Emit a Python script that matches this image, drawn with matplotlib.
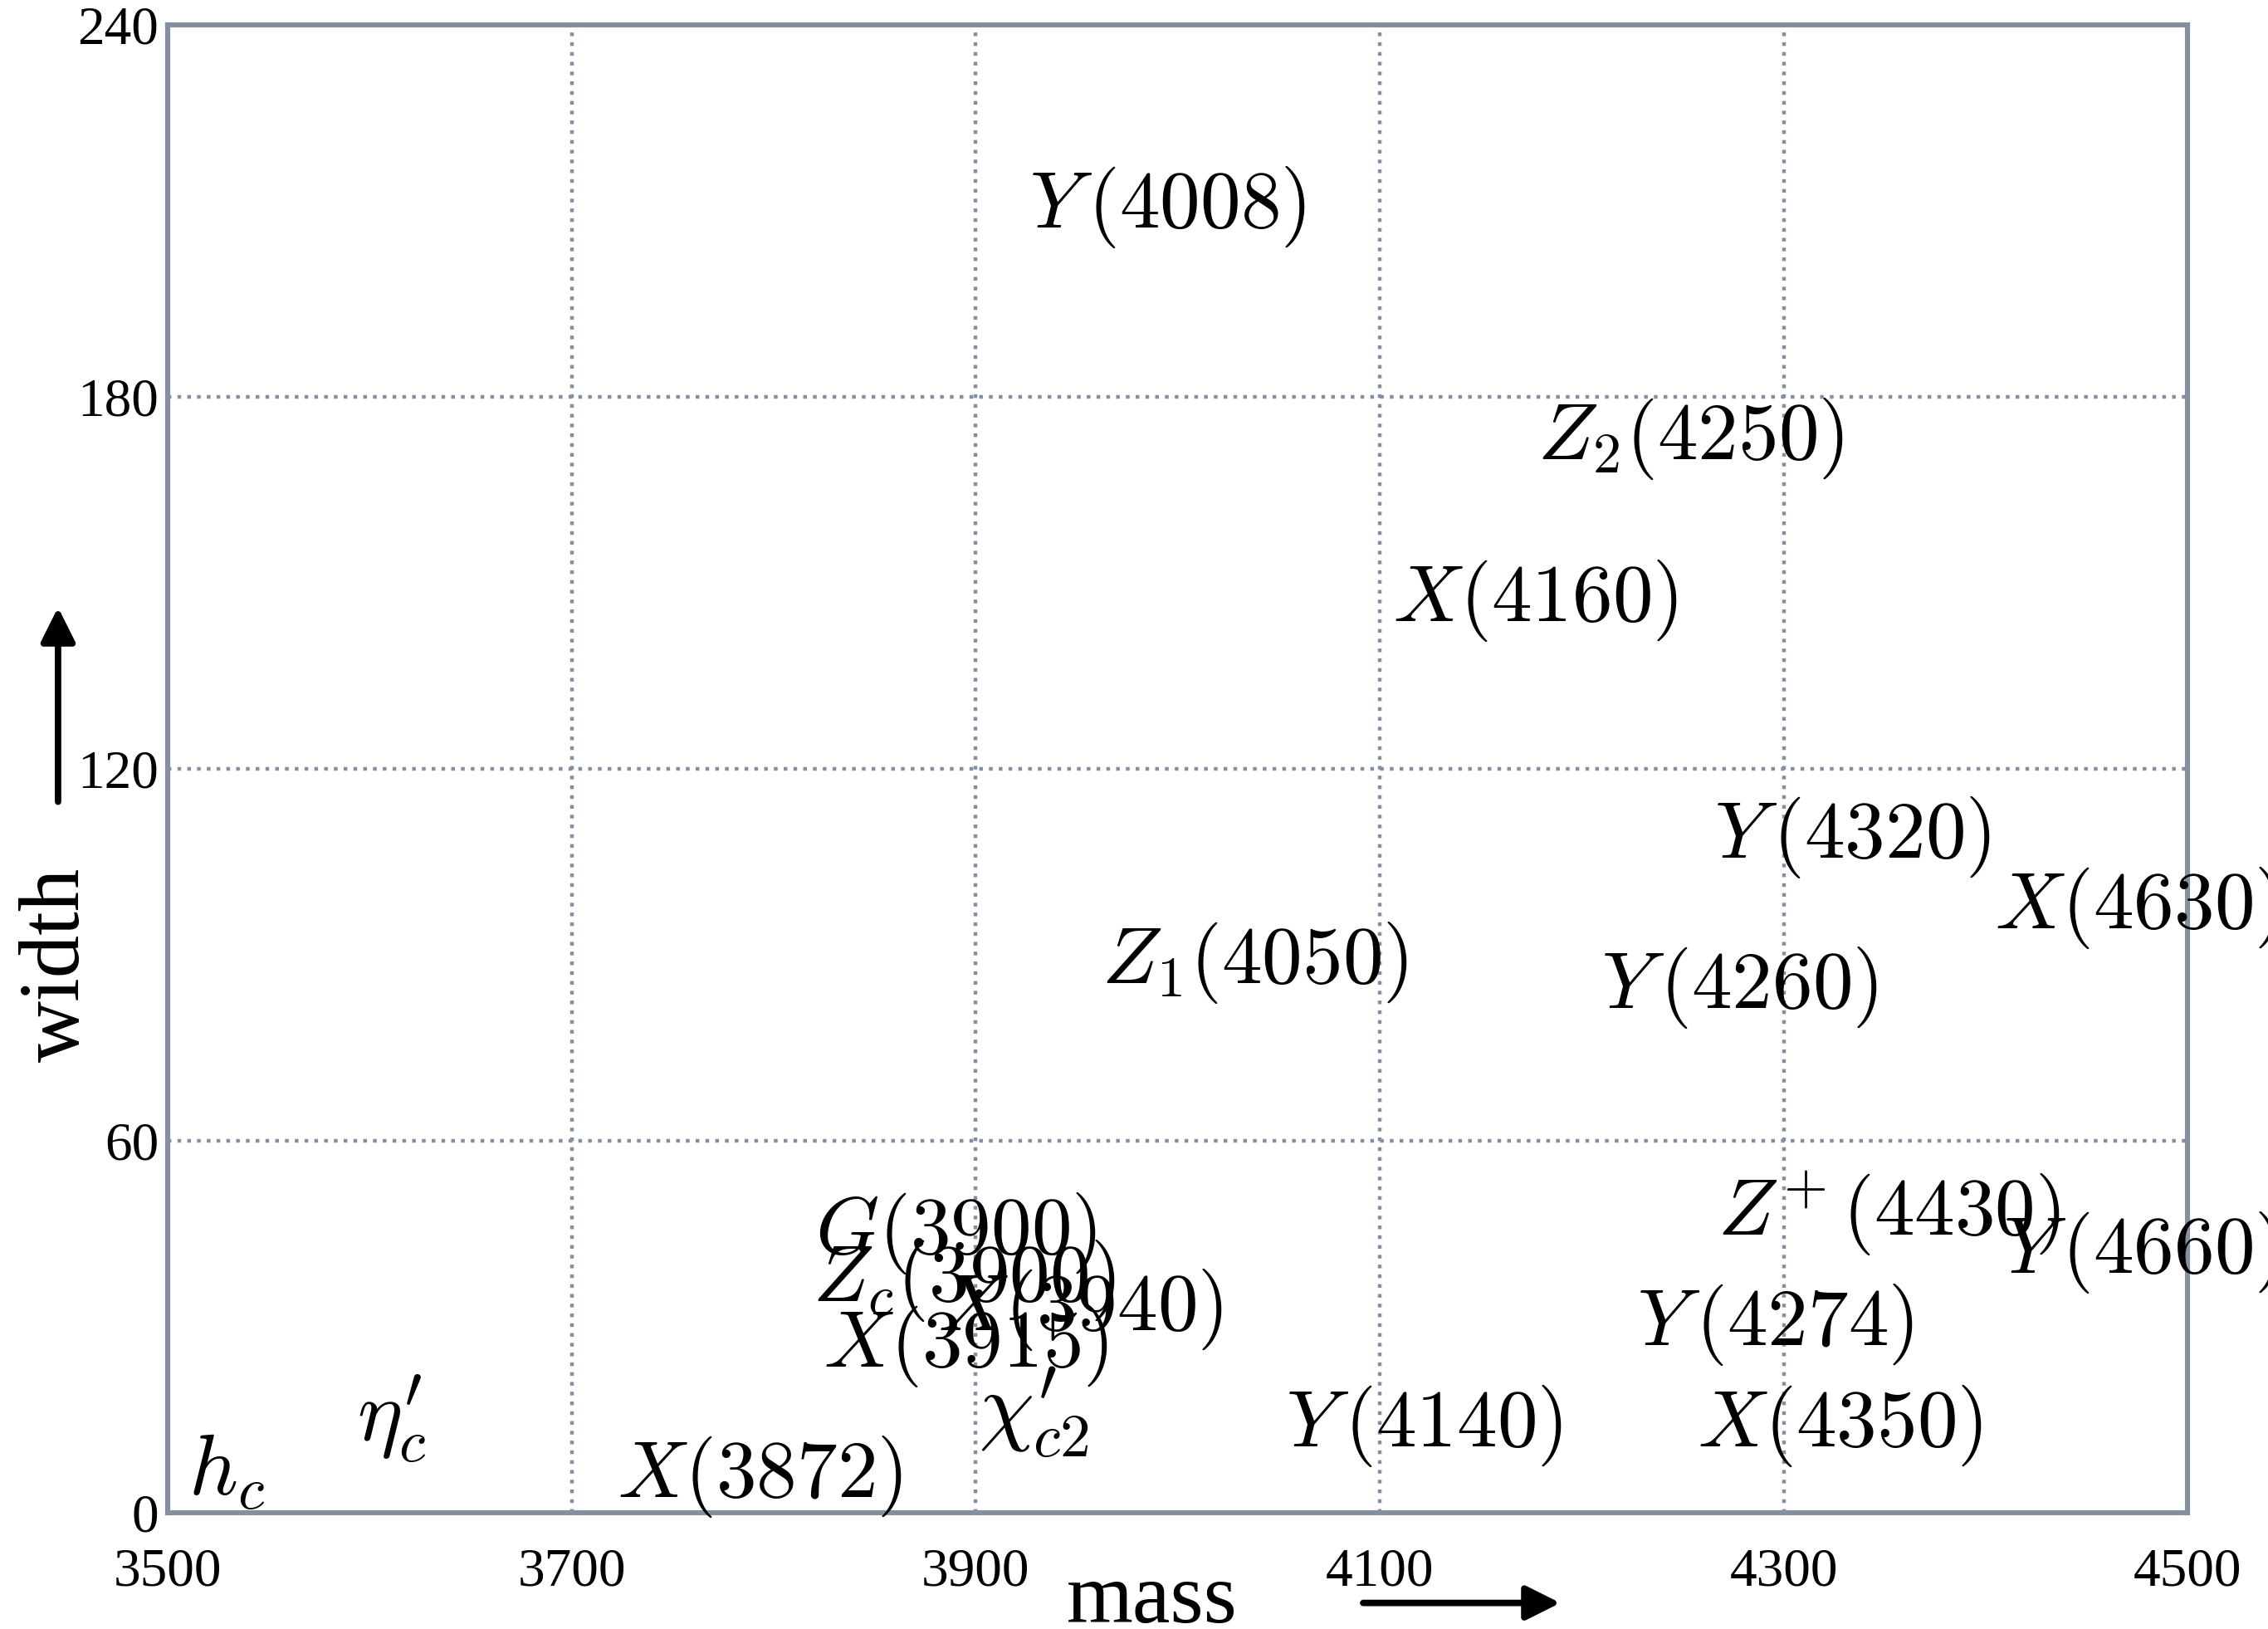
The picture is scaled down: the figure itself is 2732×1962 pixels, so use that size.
import numpy as np
import matplotlib
matplotlib.use('Agg')
import matplotlib.pyplot as plt
from matplotlib.patches import FancyArrowPatch

plt.rcParams['mathtext.fontset'] = 'cm'
plt.rcParams['font.family'] = ['Liberation Serif', 'DejaVu Serif']

# state labels and where they sit (mass, width)
names = [r'$Y\,(4008)$', r'$Z_2(4250)$', r'$X(4160)$', r'$Y\,(4320)$', r'$X(4630)$',
         r'$Z_1(4050)$', r'$Y\,(4260)$', r'$Z^{\!+}(4430)$', r'$Y\,(4660)$', r'$G(3900)$',
         r'$Z_c(3900)$', r'$X(3940)$', r'$X(3915)$', r'$\chi^{\prime}_{c2}$', r'$Y\,(4140)$',
         r'$X(4350)$', r'$Y\,(4274)$', r'$X(3872)$', r'$\eta^{\prime}_{c}$', r'$h_c$']
mass = [3995, 4254, 4177, 4334, 4475,
        4038, 4278, 4352, 4477, 3890,
        3894, 3952, 3895, 3929, 4122,
        4328, 4296, 3793, 3611, 3529]
width = [210.6, 173.2, 147.1, 109.0, 97.6,
         88.7, 84.7, 48.3, 42.0, 45.1,
         37.4, 32.7, 26.8, 16.3, 14.0,
         14.0, 30.3, 5.8, 15.2, 6.3]
sizes = [35] * 13 + [38, 35, 35, 35, 35, 37, 37]

xticks = [3500, 3700, 3900, 4100, 4300, 4500]
yticks = [0, 60, 120, 180, 240]

edge = '#8490a0'

fig = plt.figure(figsize=(13.66, 9.81), dpi=200)
ax = fig.add_axes([0.0740, 0.0714, 0.8906, 0.9133])
ax.set_xlim(3500, 4500)
ax.set_ylim(0, 240)
ax.set_xticks(xticks)
ax.set_yticks(yticks)
ax.tick_params(axis='both', length=0, labelsize=23.5)
ax.tick_params(axis='x', pad=15)
ax.tick_params(axis='y', pad=4)
ax.grid(True, linestyle=':', color=edge, linewidth=1.6)
for s in ax.spines.values():
    s.set_color(edge)
    s.set_linewidth(2.2)

for n, m, w, fs in zip(names, mass, width, sizes):
    ax.text(m, w, n, fontsize=fs, ha='center', va='center', clip_on=False)

fig.text(0.508, 0.017, 'mass', fontsize=37, ha='center', va='center')
fig.text(0.0256, 0.408, 'width', fontsize=37, ha='center', va='center', rotation=90)

# arrows next to the axis names
fig.add_artist(FancyArrowPatch((0.599, 0.016), (0.690, 0.016), transform=fig.transFigure,
                               arrowstyle='-|>,head_length=0.5,head_width=0.25',
                               mutation_scale=25, linewidth=2.8, color='black'))
fig.add_artist(FancyArrowPatch((0.0256, 0.505), (0.0256, 0.630), transform=fig.transFigure,
                               arrowstyle='-|>,head_length=0.5,head_width=0.25',
                               mutation_scale=25, linewidth=2.8, color='black'))

fig.savefig('out.png', dpi=200)
